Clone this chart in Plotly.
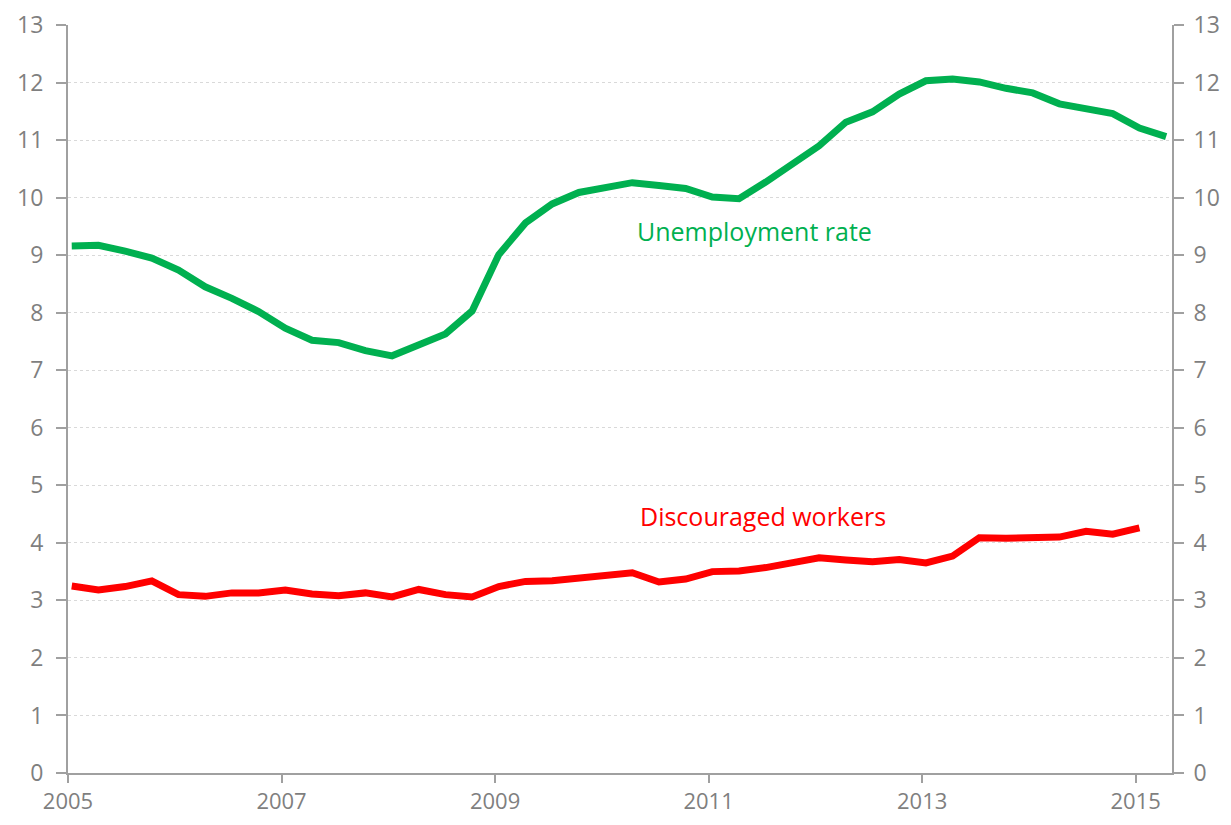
import plotly.graph_objects as go

start_year = 2005.0
quarter = 0.25
x_offset = 0.035

unemployment = [9.16, 9.17, 9.07, 8.95, 8.74, 8.45, 8.25, 8.02, 7.73, 7.52,
                7.48, 7.34, 7.25, 7.44, 7.63, 8.03, 9.01, 9.56, 9.89, 10.09,
                10.18, 10.26, 10.21, 10.16, 10.01, 9.98, 10.27, 10.60, 10.90, 11.31,
                11.49, 11.80, 12.03, 12.06, 12.01, 11.90, 11.82, 11.63, 11.56, 11.46,
                11.21, 11.06]
discouraged = [3.25, 3.18, 3.24, 3.34, 3.10, 3.07, 3.13, 3.13, 3.18, 3.11,
               3.08, 3.13, 3.06, 3.19, 3.10, 3.06, 3.24, 3.33, 3.34, 3.39,
               3.44, 3.48, 3.32, 3.37, 3.50, 3.51, 3.57, 3.65, 3.74, 3.70,
               3.67, 3.71, 3.65, 3.77, 4.09, 4.08, 4.09, 4.10, 4.20, 4.15,
               4.26]
x_ticks = [2005, 2007, 2009, 2011, 2013, 2015]
y_ticks = list(range(0, 14))

x_u = [start_year + x_offset + quarter * i for i in range(len(unemployment))]
x_d = [start_year + x_offset + quarter * i for i in range(len(discouraged))]

GREEN = "#00B050"
RED = "#FF0000"
GRAY = "#7f7f7f"
AXIS = "#a0a0a0"
FONT = "Open Sans"

fig = go.Figure()
fig.add_trace(go.Scatter(x=x_u, y=unemployment, mode="lines", name="Unemployment rate",
                         line=dict(color=GREEN, width=7), showlegend=False))
fig.add_trace(go.Scatter(x=x_d, y=discouraged, mode="lines", name="Discouraged workers",
                         line=dict(color=RED, width=7), showlegend=False))
# trace on the secondary axis so the right-hand axis is drawn
fig.add_trace(go.Scatter(x=x_u, y=unemployment, mode="lines", yaxis="y2",
                         line=dict(color="rgba(0,0,0,0)", width=0), showlegend=False,
                         hoverinfo="skip"))

fig.add_annotation(x=2011.43, y=9.42, text="Unemployment rate", showarrow=False,
                   font=dict(family=FONT, size=25, color=GREEN))
fig.add_annotation(x=2011.51, y=4.46, text="Discouraged workers", showarrow=False,
                   font=dict(family=FONT, size=25, color=RED))

fig.update_layout(
    width=1215, height=809,
    margin=dict(l=60, r=51, t=17, b=44),
    paper_bgcolor="white", plot_bgcolor="white",
    font=dict(family=FONT, size=25, color=GRAY),
    xaxis=dict(range=[2005, 2015.34], tickvals=x_ticks, ticks="outside", ticklen=8,
               tickcolor=AXIS, tickwidth=2, showline=True, linecolor=AXIS, linewidth=2,
               showgrid=False, zeroline=False, tickfont=dict(size=22, color=GRAY),
               ticklabelstandoff=0, automargin=False, ticklabeloverflow="allow"),
    yaxis=dict(range=[0, 13], tickvals=y_ticks, ticks="outside", ticklen=10,
               tickcolor=AXIS, tickwidth=2, showline=True, linecolor=AXIS, linewidth=2,
               showgrid=True, gridcolor="#d9d9d9", griddash="dot", gridwidth=1,
               zeroline=False, tickfont=dict(size=23, color=GRAY), ticklabelstandoff=8,
               automargin=False, ticklabeloverflow="allow"),
    yaxis2=dict(range=[0, 13], tickvals=y_ticks, ticks="outside", ticklen=10,
                tickcolor=AXIS, tickwidth=2, showline=True, linecolor=AXIS, linewidth=2,
                overlaying="y", side="right", showgrid=False, zeroline=False,
                tickfont=dict(size=23, color=GRAY), ticklabelstandoff=5,
                automargin=False, ticklabeloverflow="allow"),
)

fig.write_html("out.html")
